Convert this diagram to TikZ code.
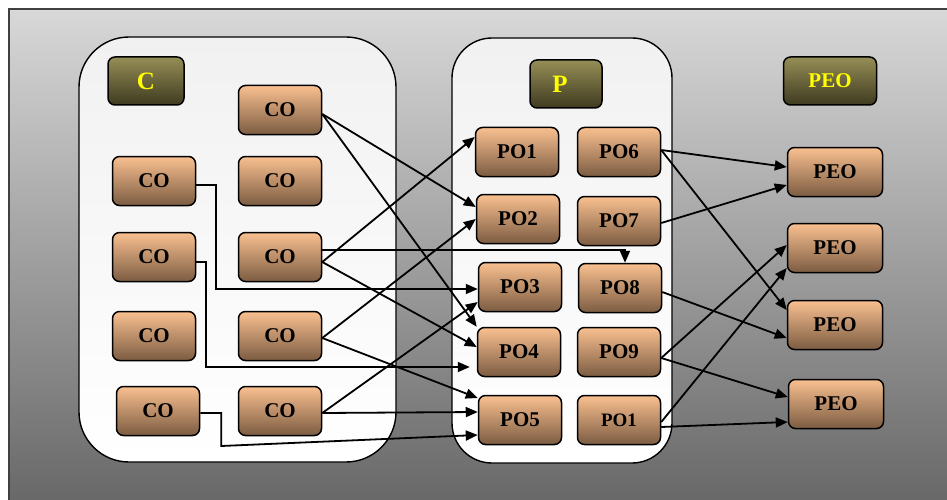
\documentclass[tikz,border=0pt]{standalone}
\usepackage{fontspec}
\setmainfont{Liberation Serif}
\usetikzlibrary{arrows.meta,calc}

\definecolor{peachtop}{HTML}{F9C090}
\definecolor{peachbot}{HTML}{7C5C42}
\definecolor{olivetop}{HTML}{968E56}
\definecolor{olivebot}{HTML}{3E3A20}
\definecolor{bgtop}{HTML}{D8D8D8}
\definecolor{bgmid}{HTML}{B0B0B0}
\definecolor{bgbot}{HTML}{666666}
\definecolor{paneltop}{HTML}{F1F1F1}
\definecolor{labeltext}{HTML}{FFFF00}

\tikzset{
  panel/.style={draw=black, line width=1.4pt, top color=paneltop, bottom color=white},
  itembox/.style={draw=black, line width=1.5pt, rounded corners=7pt,
    top color=peachtop, bottom color=peachbot, inner sep=0pt,
    minimum width=83pt, minimum height=49pt,
    font=\bfseries\fontsize{21}{24}\selectfont},
  widebox/.style={itembox, minimum width=95pt},
  titlebox/.style={draw=black, line width=1.5pt, rounded corners=7pt,
    top color=olivetop, bottom color=olivebot, inner sep=0pt,
    minimum height=48pt, text=labeltext,
    font=\bfseries\fontsize{25}{28}\selectfont},
  link/.style={draw=black, line width=1.8pt, -{Triangle[length=12pt,width=10pt]}}
}

\begin{document}
\begin{tikzpicture}[x=1pt,y=-1pt]
\useasboundingbox (0,0) rectangle (947,500);

% backdrop
\shade[top color=bgtop, middle color=bgmid, bottom color=bgbot] (9,9) rectangle (960,510);
\draw[line width=1.4pt, draw=black!75] (960,9) -- (9,9) -- (9,510);

% group panels
\draw[panel, rounded corners=50pt] (79,37) rectangle (396,462);
\draw[panel, rounded corners=40pt] (452,38) rectangle (672,463);

% titles
\node[titlebox, minimum width=76pt] (tc) at (146,81) {\raisebox{-2pt}{C}};
\node[titlebox, minimum width=72pt] (tp) at (566,84) {\raisebox{-3pt}{P\hspace{12pt}}};
\node[titlebox, minimum width=93pt, font=\bfseries\fontsize{21}{24}\selectfont] (tpeo) at (830,81) {PEO};

% C group
\node[itembox] (cl1) at (154,181) {CO\hspace{6pt}};
\node[itembox] (cl2) at (154,257) {CO\hspace{6pt}};
\node[itembox] (cl3) at (154,336) {CO\hspace{6pt}};
\node[itembox] (cl4) at (158,411) {CO\hspace{6pt}};
\node[itembox] (cr1) at (280,110) {CO\hspace{6pt}};
\node[itembox] (cr2) at (280,181) {CO\hspace{6pt}};
\node[itembox] (cr3) at (280,257) {CO\hspace{6pt}};
\node[itembox] (cr4) at (280,336) {CO\hspace{6pt}};
\node[itembox] (cr5) at (280,411) {CO\hspace{6pt}};

% P group
\node[itembox] (po1) at (517,152) {PO1};
\node[itembox] (po2) at (518,219) {PO2};
\node[itembox] (po3) at (520,287) {PO3};
\node[itembox] (po4) at (519,352) {PO4};
\node[itembox] (po5) at (520,420) {PO5};
\node[itembox] (po6) at (619,152) {PO6};
\node[itembox] (po7) at (619,221) {PO7};
\node[itembox] (po8) at (620,288) {PO8};
\node[itembox] (po9) at (619,352) {PO9};
\node[itembox, font=\bfseries\fontsize{19}{22}\selectfont] (po10) at (619,420) {PO1};

% PEO group
\node[widebox] (pe1) at (835,172) {PEO};
\node[widebox] (pe2) at (835,248) {PEO};
\node[widebox] (pe3) at (835,325) {PEO};
\node[widebox] (pe4) at (836,404) {PEO};

% C -> P links
\draw[link] ($(cr1.east)+(0,4)$) -- ($(po2.west)+(0,-12)$);
\draw[link] ($(cr1.east)+(0,4)$) -- (po4.north west);
\draw[link] ($(cr3.east)+(0,5)$) -- ($(po1.west)+(0,-15)$);
\draw[link] ($(cr3.east)+(0,5)$) -- ($(po4.west)+(0,-5)$);
\draw[link] ($(cr3.east)+(0,-7)$) -| ($(po8.north)+(5,0)$);
\draw[link] ($(cl1.east)+(0,4)$) -- ++(20,0) |- ($(po3.west)+(0,2)$);
\draw[link] ($(cl2.east)+(0,5)$) -- ++(10,0) |- ($(po4.west)+(-7,15)$);
\draw[link] ($(cr4.east)+(0,2)$) -- ($(po2.west)+(0,0)$);
\draw[link] ($(cr4.east)+(0,2)$) -- ($(po5.west)+(0,-22)$);
\draw[link] ($(cr5.east)+(0,2)$) -- ($(po3.west)+(0,15)$);
\draw[link] ($(cr5.east)+(0,2)$) -- ($(po5.west)+(0,-8)$);
\draw[link] ($(cl4.east)+(0,2)$) -- ++(21,0) -- ++(0,33) -- ($(po5.west)+(0,15)$);

% P -> PEO links
\draw[link] ($(po6.east)+(0,-2)$) -- ($(pe1.west)+(0,-5)$);
\draw[link] ($(po6.east)+(0,-2)$) -- ($(pe3.west)+(0,-15)$);
\draw[link] ($(po7.east)+(0,2)$) -- ($(pe1.west)+(0,13)$);
\draw[link] ($(po8.east)+(0,4)$) -- ($(pe3.west)+(0,13)$);
\draw[link] ($(po9.east)+(0,6)$) -- ($(pe2.west)+(0,-3)$);
\draw[link] ($(po9.east)+(0,6)$) -- ($(pe4.west)+(0,-7)$);
\draw[link] ($(po10.east)+(0,2)$) -- ($(pe2.west)+(0,20)$);
\draw[link] ($(po10.east)+(0,7)$) -- ($(pe4.west)+(0,18)$);
\end{tikzpicture}
\end{document}
